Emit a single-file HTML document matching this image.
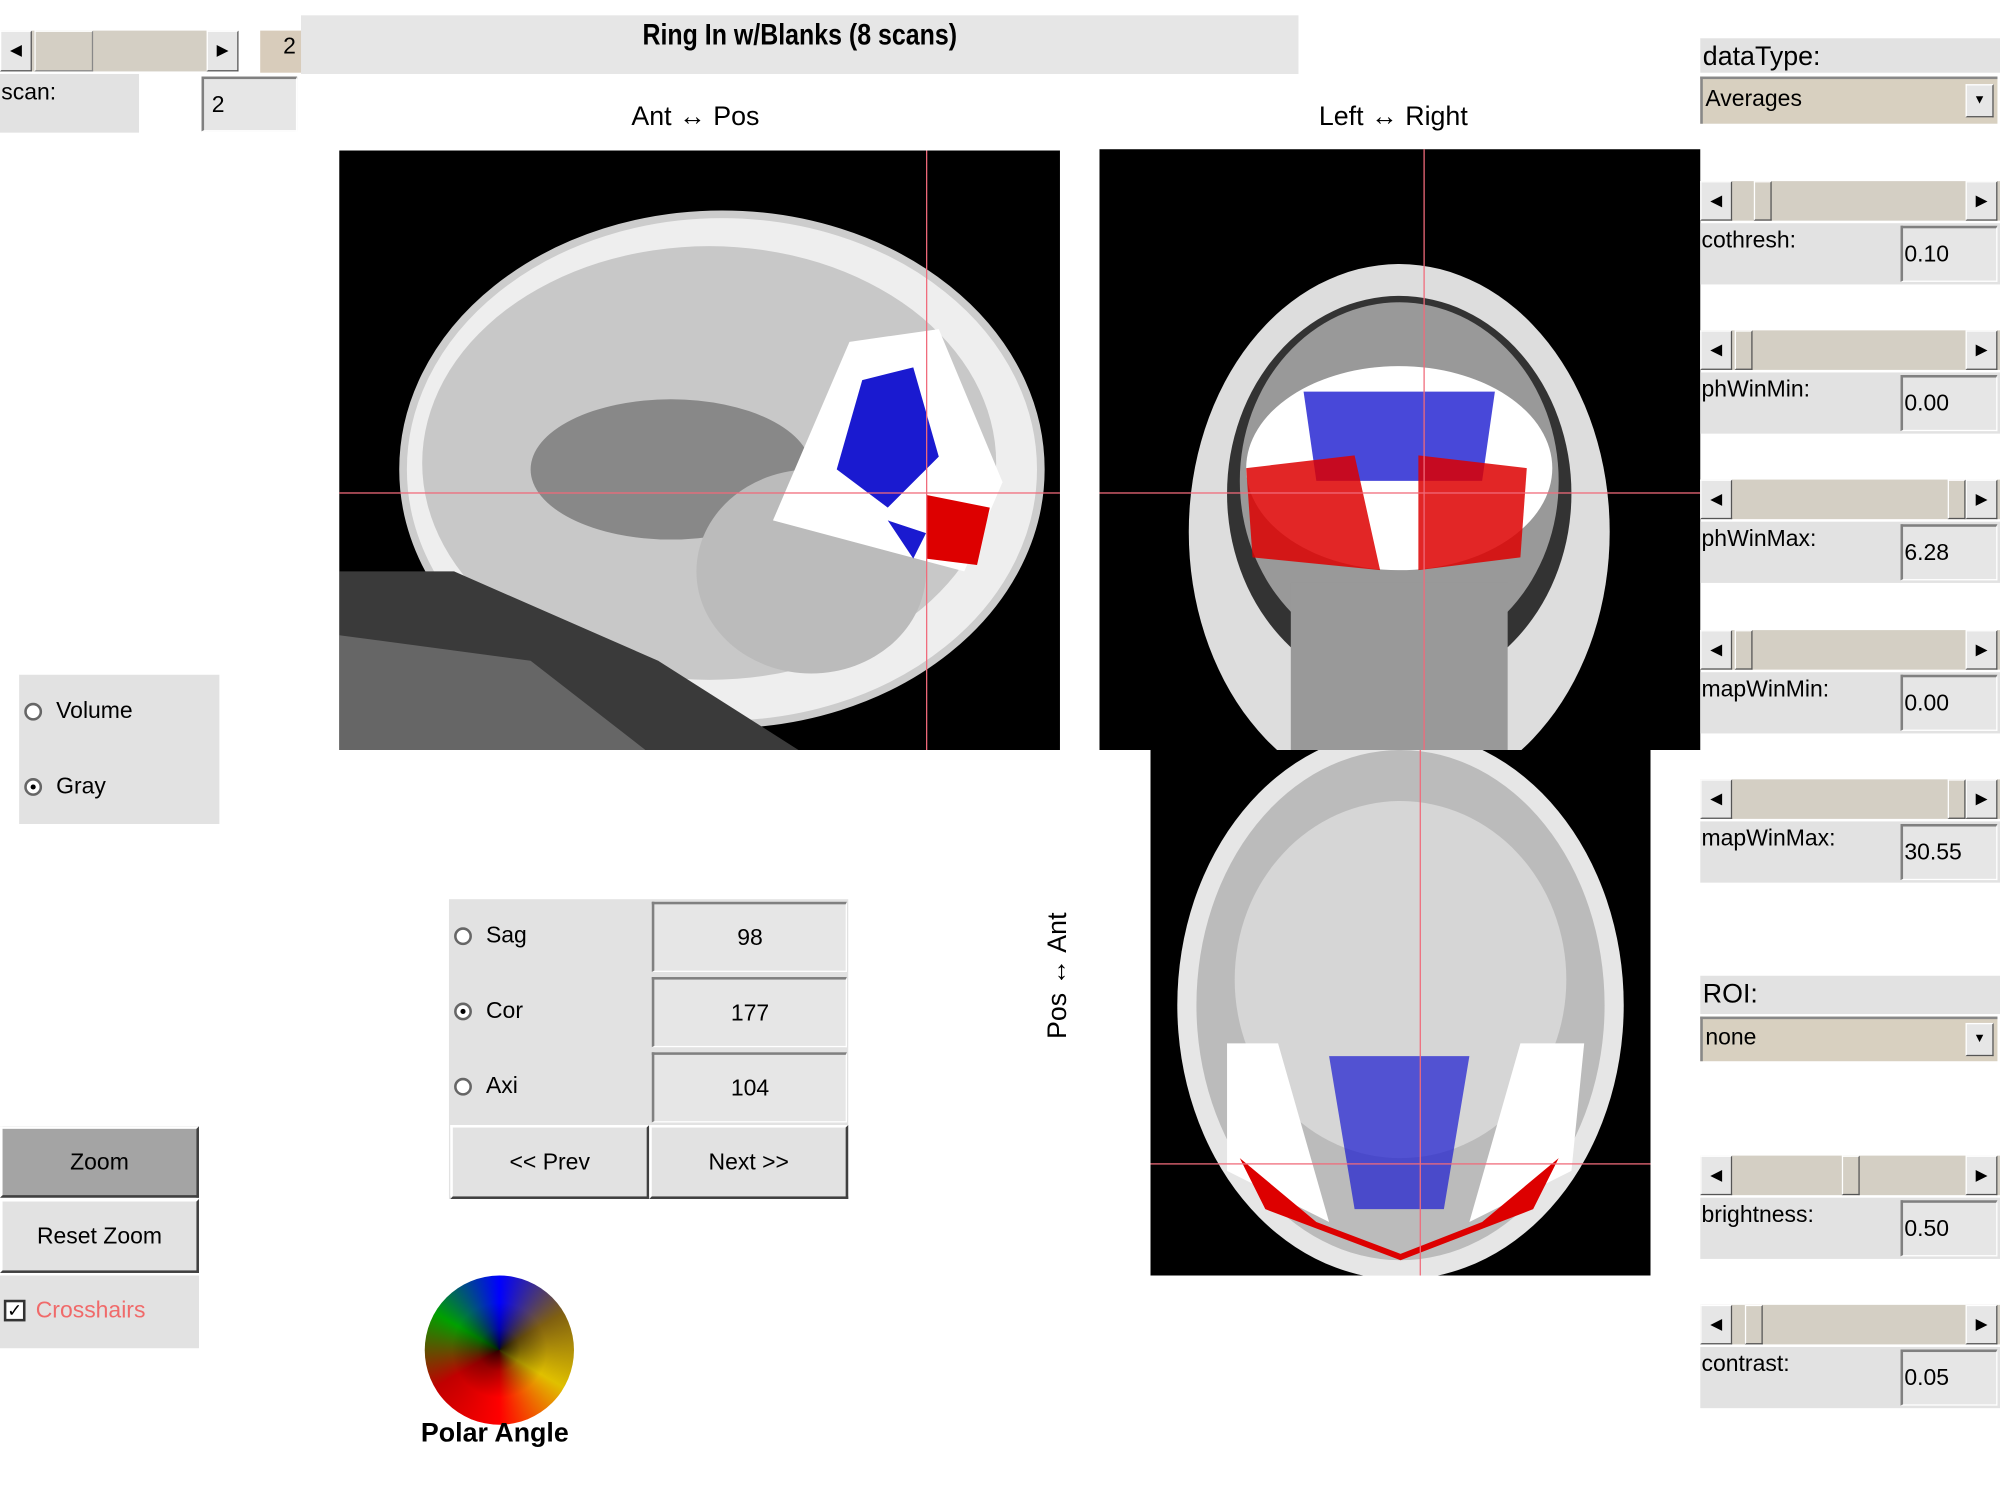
<!DOCTYPE html>
<html><head><meta charset="utf-8"><style>
body{margin:0;width:2000px;height:1500px;overflow:hidden;background:#fff;font-family:"Liberation Sans",sans-serif}
#s{position:absolute;left:0;top:0;width:1568px;height:1176px;transform:scale(1.27551);transform-origin:0 0}
.a{position:absolute;box-sizing:border-box}
.g{background:#e2e2e2}
.bg{background:#d4cfc4}
.ed{background:#e6e6e6;border-top:2px solid #808080;border-left:2px solid #808080;border-bottom:1px solid #fff;border-right:1px solid #fff;font-size:18px}
.btn{background:#e2e2e2;border:2px solid;border-color:#fff #404040 #404040 #fff;font-size:18px;text-align:center}
.arr{background:#e6e6e6;border:1px solid;border-color:#fff #555 #555 #fff;font-size:12px;text-align:center;line-height:28px}
.t{position:absolute;font-size:18px;white-space:nowrap}
.blk{background:#000;overflow:hidden}
.rad{position:absolute;width:14px;height:14px;border-radius:50%;border:2px solid #666;background:#fff;box-sizing:border-box}
.rad.on::after{content:"";position:absolute;left:3px;top:3px;width:4px;height:4px;border-radius:50%;background:#000}
.ph{position:absolute;background:#f06a7a}
</style></head><body><div id="s">
<div class="a bg" style="left:0;top:24px;width:187px;height:32px"></div>
<div class="a arr" style="left:0;top:24px;width:25px;height:32px">◀</div>
<div class="a arr" style="left:27px;top:24px;width:46px;height:32px;background:#d4cfc4;border-color:#fff #888 #888 #fff"></div>
<div class="a arr" style="left:162px;top:24px;width:25px;height:32px">▶</div>
<div class="a" style="left:204px;top:24px;width:46px;height:33px;background:#d8ccbb;font-size:18px;text-align:center;line-height:24px">2</div>
<div class="a" style="left:236px;top:12px;width:782px;height:46px;background:#e6e6e6"></div>
<div class="t" style="left:236px;top:14px;width:782px;text-align:center;font-weight:bold;font-size:23px;transform:scaleX(0.85)">Ring In w/Blanks (8 scans)</div>
<div class="a g" style="left:0;top:58px;width:109px;height:46px"></div>
<div class="t" style="left:1px;top:62px">scan:</div>
<div class="a ed" style="left:158px;top:60px;width:75px;height:43px;padding:10px 0 0 6px">2</div>
<div class="t" style="left:495px;top:80px;font-size:21px">Ant ↔ Pos</div>
<div class="t" style="left:1034px;top:80px;font-size:21px">Left ↔ Right</div>
<!-- sagittal -->
<div class="a blk" style="left:266px;top:118px;width:565px;height:470px">
<svg width="565" height="470">
<ellipse cx="300" cy="250" rx="250" ry="200" fill="#eee" stroke="#ccc" stroke-width="6"/>
<ellipse cx="290" cy="245" rx="225" ry="170" fill="#c8c8c8"/>
<ellipse cx="260" cy="250" rx="110" ry="55" fill="#888"/>
<ellipse cx="370" cy="330" rx="90" ry="80" fill="#bbb"/>
<path d="M0 330 L90 330 L250 400 L360 470 L0 470Z" fill="#3a3a3a"/>
<path d="M0 380 L150 400 L240 470 L0 470Z" fill="#666"/>
<path d="M400 150 L470 140 L520 260 L490 330 L340 290 Z" fill="#fff"/>
<path d="M410 180 L450 170 L470 240 L430 280 L390 250Z" fill="#1a1ad0"/>
<path d="M460 270 L510 280 L500 325 L460 320Z" fill="#d00"/>
<path d="M430 290 L460 300 L450 320Z" fill="#1a1ad0"/>
</svg></div>
<div class="ph" style="left:726px;top:118px;width:1px;height:470px"></div>
<div class="ph" style="left:266px;top:386px;width:565px;height:1px"></div>
<!-- coronal -->
<div class="a blk" style="left:862px;top:117px;width:471px;height:471px">
<svg width="471" height="471">
<ellipse cx="235" cy="300" rx="165" ry="210" fill="#ddd"/>
<ellipse cx="235" cy="270" rx="135" ry="155" fill="#333"/>
<ellipse cx="235" cy="260" rx="125" ry="140" fill="#999"/>
<ellipse cx="235" cy="250" rx="120" ry="80" fill="#fff"/>
<path d="M160 190 L310 190 L300 260 L170 260Z" fill="#1a1ad0" opacity=".8"/>
<path d="M115 250 L200 240 L220 330 L120 320Z" fill="#d00" opacity=".85"/>
<path d="M250 240 L335 250 L330 320 L250 330Z" fill="#d00" opacity=".85"/>
<rect x="150" y="340" width="170" height="131" fill="#999"/>
</svg></div>
<div class="ph" style="left:1116px;top:117px;width:1px;height:471px"></div>
<div class="ph" style="left:862px;top:386px;width:471px;height:1px"></div>
<!-- axial -->
<div class="a blk" style="left:902px;top:588px;width:392px;height:412px">
<svg width="392" height="412">
<ellipse cx="196" cy="200" rx="175" ry="215" fill="#e6e6e6"/>
<ellipse cx="196" cy="200" rx="160" ry="200" fill="#bbb"/>
<ellipse cx="196" cy="180" rx="130" ry="140" fill="#d6d6d6"/>
<path d="M60 230 L100 230 L140 370 L60 330Z" fill="#fff"/>
<path d="M340 230 L290 230 L250 370 L330 330Z" fill="#fff"/>
<path d="M70 320 L130 370 L196 395 L260 370 L320 320 L300 360 L196 400 L90 360Z" fill="#d00"/>
<path d="M140 240 L250 240 L230 360 L160 360Z" fill="#1a1ad0" opacity=".7"/>
</svg></div>
<div class="ph" style="left:1113px;top:588px;width:1px;height:412px"></div>
<div class="ph" style="left:902px;top:912px;width:392px;height:1px"></div>
<div class="a g" style="left:15px;top:529px;width:157px;height:117px"></div>
<div class="rad" style="left:19px;top:551px"></div><div class="t" style="left:44px;top:547px">Volume</div>
<div class="rad on" style="left:19px;top:610px"></div><div class="t" style="left:44px;top:606px">Gray</div>
<div class="a g" style="left:352px;top:705px;width:313px;height:235px"></div>
<div class="rad" style="left:356px;top:727px"></div><div class="t" style="left:381px;top:723px">Sag</div>
<div class="rad on" style="left:356px;top:786px"></div><div class="t" style="left:381px;top:782px">Cor</div>
<div class="rad" style="left:356px;top:845px"></div><div class="t" style="left:381px;top:841px">Axi</div>
<div class="a ed" style="left:511px;top:707px;width:153px;height:55px;text-align:center;line-height:52px">98</div>
<div class="a ed" style="left:511px;top:766px;width:153px;height:55px;text-align:center;line-height:52px">177</div>
<div class="a ed" style="left:511px;top:825px;width:153px;height:55px;text-align:center;line-height:52px">104</div>
<div class="a btn" style="left:353px;top:882px;width:156px;height:58px;line-height:54px">&lt;&lt; Prev</div>
<div class="a btn" style="left:509px;top:882px;width:156px;height:58px;line-height:54px">Next &gt;&gt;</div>
<div class="t" style="left:780px;top:753px;font-size:21px;transform:rotate(-90deg)">Pos ↔ Ant</div>
<div class="a btn" style="left:0;top:883px;width:156px;height:56px;line-height:52px;background:#a4a4a4">Zoom</div>
<div class="a btn" style="left:0;top:940px;width:156px;height:58px;line-height:54px">Reset Zoom</div>
<div class="a g" style="left:0;top:1000px;width:156px;height:57px"></div>
<div class="a" style="left:3px;top:1019px;width:17px;height:17px;border:2px solid #333;background:#fff;font-size:14px;line-height:13px;text-align:center">✓</div>
<div class="t" style="left:28px;top:1017px;color:#f06a6a">Crosshairs</div>
<div class="a" style="left:333px;top:1000px;width:117px;height:117px;border-radius:50%;background:conic-gradient(from 0deg,#0000ff,#806010,#e0c000,#ff0000,#c00000,#00a000,#0000ff)"></div>
<div class="a" style="left:333px;top:1000px;width:117px;height:117px;border-radius:50%;background:radial-gradient(circle,rgba(0,0,0,.8) 0%,rgba(0,0,0,.3) 20%,rgba(0,0,0,0) 45%)"></div>
<div class="t" style="left:330px;top:1112px;font-weight:bold;font-size:21px">Polar Angle</div>
<div class="a g" style="left:1333px;top:30px;width:235px;height:27px"></div>
<div class="t" style="left:1335px;top:33px;font-size:21px">dataType:</div>
<div class="a" style="left:1333px;top:60px;width:233px;height:37px;background:#d8d0c0;border-top:2px solid #888;border-left:2px solid #888"></div>
<div class="t" style="left:1337px;top:67px">Averages</div>
<div class="a arr" style="left:1541px;top:66px;width:22px;height:26px;line-height:24px;font-size:10px">▼</div>
<div class="a g" style="left:1333px;top:765px;width:235px;height:30px"></div>
<div class="t" style="left:1335px;top:768px;font-size:21px">ROI:</div>
<div class="a" style="left:1333px;top:797px;width:233px;height:35px;background:#d8d0c0;border-top:2px solid #888;border-left:2px solid #888"></div>
<div class="t" style="left:1337px;top:803px">none</div>
<div class="a arr" style="left:1541px;top:802px;width:22px;height:26px;line-height:24px;font-size:10px">▼</div>
<div id="sl"></div>
<script>
var d=[[142,"cothresh:","0.10",1375],[259,"phWinMin:","0.00",1360],[376,"phWinMax:","6.28",1527],[494,"mapWinMin:","0.00",1360],[611,"mapWinMax:","30.55",1527],[906,"brightness:","0.50",1444],[1023,"contrast:","0.05",1368]];
var h="";d.forEach(function(r){var y=r[0];
h+='<div class="a bg" style="left:1333px;top:'+y+'px;width:235px;height:31px"></div>';
h+='<div class="a arr" style="left:1333px;top:'+y+'px;width:25px;height:31px">◀</div>';
h+='<div class="a arr" style="left:1541px;top:'+y+'px;width:25px;height:31px">▶</div>';
h+='<div class="a arr" style="left:'+r[3]+'px;top:'+y+'px;width:14px;height:31px;background:#d4cfc4"></div>';
h+='<div class="a g" style="left:1333px;top:'+(y+33)+'px;width:235px;height:48px"></div>';
h+='<div class="t" style="left:1334px;top:'+(y+36)+'px">'+r[1]+'</div>';
h+='<div class="a ed" style="left:1490px;top:'+(y+35)+'px;width:76px;height:44px;padding:10px 0 0 1px">'+r[2]+'</div>';});
document.getElementById("sl").innerHTML=h;
</script>
</div></body></html>
